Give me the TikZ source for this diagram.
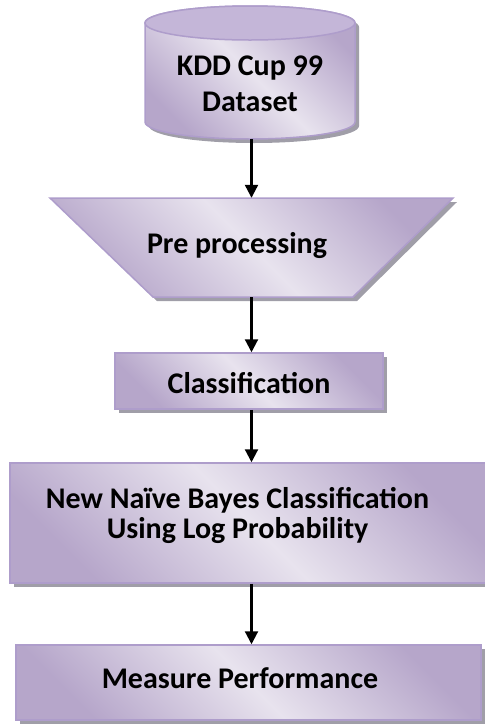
\documentclass[tikz,border=0pt]{standalone}
\usepackage{fontspec}
\setmainfont{Carlito}
\usetikzlibrary{arrows.meta,shadows}
\definecolor{lav}{HTML}{E8E3EE}
\definecolor{lavd}{HTML}{B6A6CA}
\definecolor{lavtop}{HTML}{C4B6D8}
\definecolor{lavb}{HTML}{AE9DCB}
\definecolor{shd}{RGB}{160,158,168}
\tikzset{
  boxfill/.style={top color=lavd, bottom color=lavd, middle color=lav, shading angle=-45},
  box/.style={draw=lavb, line width=1.5pt, boxfill, rectangle, inner sep=0pt,
    drop shadow={fill=shd, opacity=1, shadow xshift=4pt, shadow yshift=-4pt}},
  shape outline/.style={draw=lavb, line width=1.5pt},
  ghost/.style={inner sep=0pt, rectangle},
  lbl/.style={font=\bfseries\fontsize{30}{36}\selectfont, anchor=base, inner sep=0pt},
  arr/.style={-{Triangle[width=13pt,length=13pt]}, line width=2.2pt, black},
}
\begin{document}
\begin{tikzpicture}[x=1pt,y=-1pt]
\useasboundingbox (0,0) rectangle (485,724);
\clip (0,0) rectangle (485,724);

% ---- cylinder (dataset) ----
\fill[shd] (149,27) -- (149,126) arc[start angle=180, end angle=0, x radius=105, y radius=17]
  -- (359,27) arc[start angle=0, end angle=-180, x radius=105, y radius=17] -- cycle;
\path[shape outline, boxfill] (145,23) -- (145,122) arc[start angle=180, end angle=0, x radius=105, y radius=17]
  -- (355,23) arc[start angle=0, end angle=-180, x radius=105, y radius=17] -- cycle;
\path[shape outline, fill=lavtop] (250,23) ellipse [x radius=105, y radius=17];
\node[ghost, minimum width=210pt, minimum height=133pt] (cyl) at (250,72.5) {};

% ---- trapezoid (pre processing) ----
\fill[shd] (54,202) -- (457,202) -- (357,301) -- (157,301) -- cycle;
\path[shape outline, boxfill] (50,198) -- (453,198) -- (353,297) -- (153,297) -- cycle;
\node[ghost, minimum width=403pt, minimum height=99pt] (pre) at (251.5,247.5) {};

% ---- boxes ----
\node[box, minimum width=268pt, minimum height=56pt] (cls) at (249,381) {};
\node[box, minimum width=482pt, minimum height=120pt] (nnb) at (251,523) {};
\node[box, minimum width=465pt, minimum height=75pt] (meas) at (248.5,682.5) {};

% ---- texts ----
\node[lbl] (t1) at (250,75) {KDD Cup 99};
\node[lbl] (t2) at (250,111) {Dataset};
\node[lbl] (t3) at (237,253) {Pre processing};
\node[lbl] (t4) at (249,393) {Classification};
\node[lbl] (t5) at (237.5,508) {New Naïve Bayes Classification};
\node[lbl] (t6) at (237.5,538) {Using Log Probability};
\node[lbl] (t7) at (240,688) {Measure Performance};

% ---- connectors ----
\draw[arr] (cyl.south -| pre.north) -- (pre.north);
\draw[arr] (pre.south) -- (pre.south |- cls.north);
\draw[arr] (pre.south |- cls.south) -- (pre.south |- nnb.north);
\draw[arr] (pre.south |- nnb.south) -- (pre.south |- meas.north);
\end{tikzpicture}
\end{document}
